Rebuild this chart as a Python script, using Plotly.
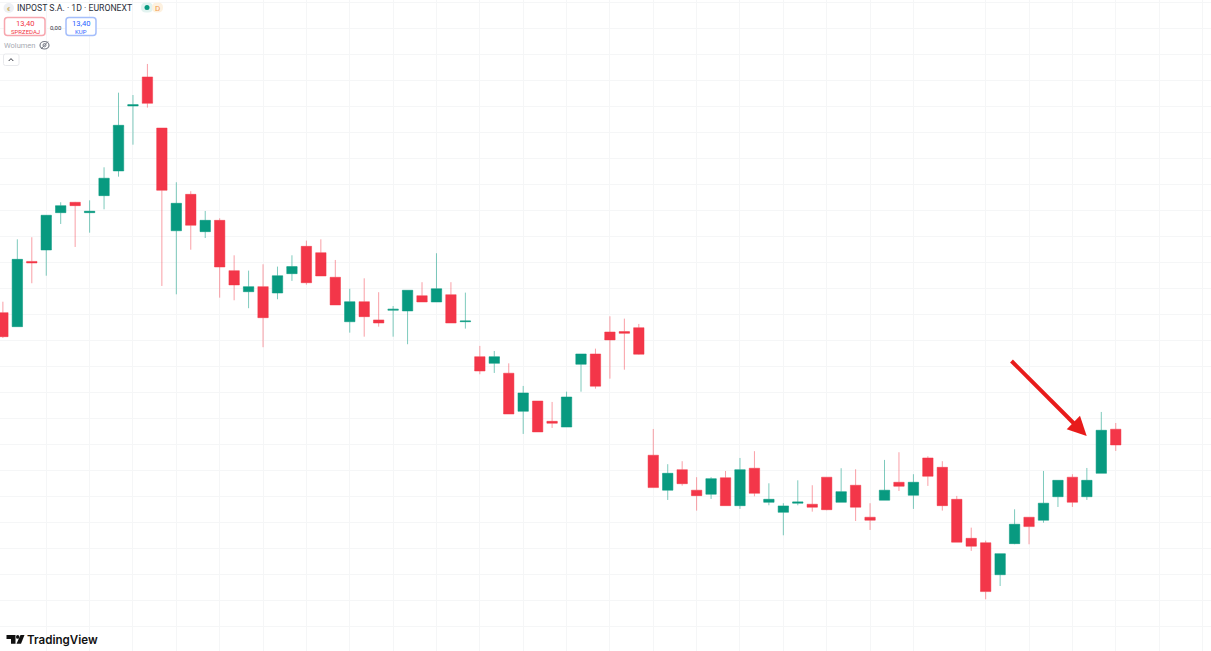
import plotly.graph_objects as go

W, H = 1211, 651

session = list(range(78))
open_ = [14.418,14.310,14.812,14.900,15.187,15.267,15.187,15.318,15.508,16.008,16.231,15.838,15.048,15.328,15.041,15.128,14.741,14.579,14.618,14.569,14.718,14.928,14.879,14.690,14.348,14.502,14.362,14.436,14.431,14.548,14.500,14.556,14.348,14.079,14.028,13.952,13.659,13.738,13.582,13.538,14.021,14.100,14.269,14.272,14.302,
         13.321,13.052,13.210,13.052,13.021,13.148,12.933,13.221,12.959,12.882,12.952,12.944,13.152,12.959,13.090,12.844,12.975,13.113,13.013,13.300,13.228,12.982,12.682,12.648,12.402,12.641,12.844,12.821,13.002,13.152,13.002,13.182,13.521]
high = [14.502,14.982,14.998,15.169,15.267,15.270,15.282,15.536,16.110,16.092,16.331,15.838,15.421,15.352,15.200,15.144,14.859,14.741,14.790,14.772,14.859,14.972,14.982,14.823,14.602,14.682,14.575,14.469,14.590,14.652,14.875,14.652,14.572,14.162,14.123,14.028,13.854,13.738,13.731,13.810,14.100,14.141,14.390,14.372,14.331,
        13.523,13.252,13.275,13.152,13.152,13.200,13.300,13.352,13.105,12.952,13.128,13.090,13.152,13.221,13.213,12.952,13.285,13.344,13.175,13.313,13.275,13.008,12.764,12.664,12.564,12.905,12.844,13.200,13.128,13.175,13.223,13.654,13.569]
low = [14.223,14.310,14.644,14.702,15.100,14.923,15.033,15.213,15.464,15.710,15.995,14.623,14.559,14.902,14.992,14.533,14.513,14.452,14.152,14.521,14.662,14.633,14.700,14.477,14.264,14.233,14.310,14.233,14.175,14.500,14.500,14.338,14.295,13.944,13.954,13.638,13.485,13.500,13.531,13.538,13.810,13.833,13.910,13.979,14.095,
       13.072,12.977,13.087,12.895,12.985,12.933,12.908,13.005,12.936,12.705,12.936,12.887,12.898,12.959,12.815,12.746,12.975,13.046,12.908,13.085,12.895,12.652,12.585,12.213,12.315,12.636,12.636,12.802,12.923,12.923,12.977,13.182,13.354]
close = [14.233,14.828,14.800,15.167,15.241,15.241,15.198,15.452,15.859,16.018,16.028,15.359,15.259,15.090,15.128,14.769,14.631,14.618,14.379,14.702,14.772,14.648,14.700,14.477,14.502,14.387,14.338,14.444,14.590,14.500,14.602,14.338,14.354,13.969,14.079,13.638,13.800,13.500,13.567,13.769,14.100,13.852,14.208,14.259,14.098,
         13.072,13.182,13.102,13.010,13.141,12.933,13.210,13.028,12.982,12.931,12.962,12.921,12.902,13.041,12.921,12.821,13.052,13.082,13.113,13.159,12.933,12.652,12.621,12.272,12.564,12.790,12.772,12.952,13.128,12.959,13.128,13.513,13.400]

grid_x = list(range(3, 66, 3)) + [68, 71, 74, 77, 80, 83]
grid_y = [round(12.0 + 0.2 * k, 1) for k in range(25)]

header_title = "INPOST S.A. · 1D · EURONEXT"
bid_label, ask_label, spread_label = "13,40", "13,40", "0,00"
bid_side, ask_side = "SPRZEDAJ", "KUP"
volume_label = "Wolumen"

RED, GREEN = "#F33649", "#089A80"
RED_W, GREEN_W = "rgba(242,54,69,0.48)", "rgba(8,153,129,0.52)"
GRID = "#F5F6F7"


def px(x):
    return x / W


def py(y):
    return 1 - y / H


def path(points):
    return "M" + " L".join(f"{px(a):.5f},{py(b):.5f}" for a, b in points) + " Z"


def box(x0, y0, x1, y1, line=None, fill="white", lw=1, kind="rect"):
    return dict(type=kind, xref="paper", yref="paper", x0=px(x0), x1=px(x1), y0=py(y0), y1=py(y1),
                line=dict(color=line or "rgba(0,0,0,0)", width=lw), fillcolor=fill, layer="above")


def rrect(x0, y0, x1, y1, r, line, fill="white", lw=1.5):
    pts = (f"M{px(x0+r):.5f},{py(y0):.5f} L{px(x1-r):.5f},{py(y0):.5f} Q{px(x1):.5f},{py(y0):.5f} {px(x1):.5f},{py(y0+r):.5f} "
           f"L{px(x1):.5f},{py(y1-r):.5f} Q{px(x1):.5f},{py(y1):.5f} {px(x1-r):.5f},{py(y1):.5f} "
           f"L{px(x0+r):.5f},{py(y1):.5f} Q{px(x0):.5f},{py(y1):.5f} {px(x0):.5f},{py(y1-r):.5f} "
           f"L{px(x0):.5f},{py(y0+r):.5f} Q{px(x0):.5f},{py(y0):.5f} {px(x0+r):.5f},{py(y0):.5f} Z")
    return dict(type="path", xref="paper", yref="paper", path=pts, line=dict(color=line, width=lw),
                fillcolor=fill, layer="above")


def label(text, x, y, size, color, anchor="left", family="Roboto, Arial, sans-serif", weight=None):
    font = dict(size=size, color=color, family=family)
    if weight:
        font["weight"] = weight
    return dict(text=text, xref="paper", yref="paper", x=px(x), y=py(y), showarrow=False, xanchor=anchor,
                yanchor="middle", font=font, borderpad=0, borderwidth=0)


fig = go.Figure(go.Candlestick(
    x=session, open=open_, high=high, low=low, close=close, whiskerwidth=0,
    increasing=dict(line=dict(color=GREEN_W, width=1), fillcolor=GREEN),
    decreasing=dict(line=dict(color=RED_W, width=1), fillcolor=RED),
    hoverinfo="skip",
))

shapes = [
    # red pointer arrow
    dict(type="line", xref="paper", yref="paper", x0=px(1011.5), y0=py(361), x1=px(1074), y1=py(423.5),
         line=dict(color="#E81B1B", width=4), layer="above"),
    dict(type="path", xref="paper", yref="paper", path=path([(1086.7, 436), (1066.7, 429.3), (1080, 415.7)]),
         line=dict(color="#E81B1B", width=0), fillcolor="#E81B1B", layer="above"),
    # symbol icon and status pills
    box(3.5, 3, 14, 13, fill="#EEF0F4", kind="circle"),
    rrect(141, 2.5, 153, 12.5, 5, "#E2F3F0", "#E2F3F0", 0),
    rrect(152, 2.5, 163, 12.5, 5, "#FDF1E0", "#FDF1E0", 0),
    box(144.5, 5, 149.5, 10, fill="#089A80", kind="circle"),
    # bid / ask buttons
    rrect(4.5, 17.5, 45, 35.5, 3, "#F7A6AE"),
    rrect(66, 17.5, 96, 35.5, 3, "#A5BEFB"),
    # volume eye icon
    box(40, 41.5, 49, 49, line="#777B86", fill="white", lw=1.2, kind="circle"),
    box(43, 43.5, 46, 46.8, line="#777B86", fill="white", lw=1, kind="circle"),
    dict(type="line", xref="paper", yref="paper", x0=px(41), y0=py(49), x1=px(48), y1=py(41.5),
         line=dict(color="#777B86", width=1), layer="above"),
    # collapse button
    rrect(3.5, 54, 19, 65.5, 2, "#E8E9EC", "white", 1),
    dict(type="path", xref="paper", yref="paper",
         path=f"M{px(8.7):.5f},{py(61):.5f} L{px(11):.5f},{py(58.6):.5f} L{px(13.3):.5f},{py(61):.5f}",
         line=dict(color="#333640", width=1), layer="above"),
    # logo mark
    dict(type="path", xref="paper", yref="paper",
         path=path([(6.5, 635), (15.5, 635), (15.5, 643.7), (11, 643.7), (11, 639), (6.5, 639)]),
         line=dict(width=0), fillcolor="#111111", layer="above"),
    box(16, 635, 19.4, 638.8, fill="#111111", kind="circle"),
    dict(type="path", xref="paper", yref="paper",
         path=path([(20.5, 635), (24.5, 635), (21, 643.7), (16.5, 643.7)]),
         line=dict(width=0), fillcolor="#111111", layer="above"),
]

annotations = [
    label(header_title, 17, 8, 8.7, "#2A2E39"),
    label("D", 157, 8, 8, "#F2994A", "center"),
    label("€", 9, 8, 6, "#C9A94F", "center"),
    label(bid_label, 25, 23, 7.6, "#F23645", "center"),
    label(bid_side, 25, 31, 6, "#F23645", "center"),
    label(spread_label, 55.5, 27, 6, "#2A2E39", "center"),
    label(ask_label, 81, 23, 7.6, "#2962FF", "center"),
    label(ask_side, 81, 31, 6, "#2962FF", "center"),
    label(volume_label, 4, 45.5, 7.5, "#A8ABB3"),
    label("TradingView", 27, 640, 11.6, "#111111", family="Inter, Roboto, sans-serif", weight=600),
]

fig.update_layout(
    width=W, height=H, margin=dict(l=0, r=0, t=0, b=0), showlegend=False,
    paper_bgcolor="white", plot_bgcolor="white", boxgap=0.28, boxgroupgap=0,
    shapes=shapes, annotations=annotations,
    xaxis=dict(range=[-0.2, 83.59], tickmode="array", tickvals=grid_x, showticklabels=False, ticks="",
               showgrid=True, gridcolor=GRID, gridwidth=1, zeroline=False, showline=False,
               rangeslider=dict(visible=False)),
    yaxis=dict(range=[11.815, 16.823], tickmode="array", tickvals=grid_y, showticklabels=False, ticks="",
               showgrid=True, gridcolor=GRID, gridwidth=1, zeroline=False, showline=False),
)

fig.write_html("out.html", config=dict(displayModeBar=False),
               post_script="document.body.style.margin='0';document.documentElement.style.overflow='hidden';")
